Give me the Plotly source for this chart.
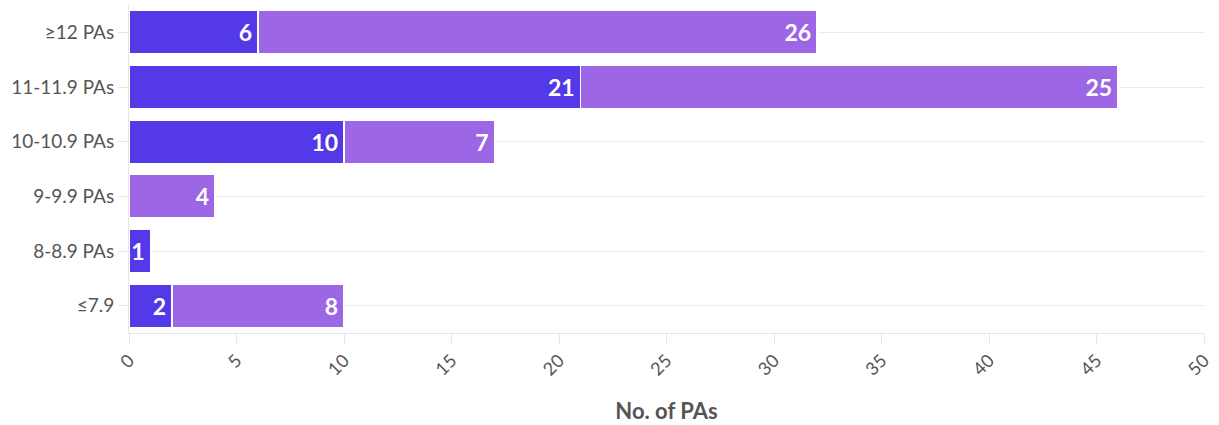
import plotly.graph_objects as go

# Plate-appearance bins, bottom to top
categories = ["≤7.9", "8-8.9 PAs", "9-9.9 PAs", "10-10.9 PAs", "11-11.9 PAs", "≥12 PAs"]
series_a = [2, 1, None, 10, 21, 6]
series_b = [8, None, 4, 7, 25, 26]
x_ticks = [0, 5, 10, 15, 20, 25, 30, 35, 40, 45, 50]

color_a = "#5439e8"
color_b = "#9d66e5"
font_family = "Source Sans Pro, Lato, Noto Sans, sans-serif"


def bar_trace(values, color):
    return go.Bar(
        y=categories,
        x=values,
        orientation="h",
        marker=dict(color=color, line=dict(color="white", width=1.5)),
        # thin space keeps the label a little off the bar end
        text=[f"{v}\u2009" if v else "" for v in values],
        textposition="inside",
        insidetextanchor="end",
        constraintext="none",
        textfont=dict(family=font_family, size=23, color="white",
                      weight="bold", shadow=f"0px 0px 3px {color}"),
        hoverinfo="skip",
        showlegend=False,
    )


fig = go.Figure([bar_trace(series_a, color_a), bar_trace(series_b, color_b)])

fig.update_layout(
    width=1219,
    height=425,
    barmode="stack",
    bargap=0.2,
    margin=dict(l=129, r=15, t=5, b=92),
    plot_bgcolor="white",
    paper_bgcolor="white",
    font=dict(family=font_family, color="#555555", size=18),
)

fig.update_xaxes(
    range=[0, 50],
    tickvals=x_ticks,
    tickangle=-45,
    tickfont=dict(size=18, color="#555555"),
    showgrid=False,
    showline=True,
    linecolor="#e6e6e6",
    linewidth=1,
    ticks="outside",
    ticklen=9,
    tickcolor="#e6e6e6",
    zeroline=False,
    title=dict(text="<b>No. of PAs</b>", font=dict(size=22, color="#555555"), standoff=25),
)

fig.update_yaxes(
    categoryorder="array",
    categoryarray=categories,
    tickfont=dict(size=19, color="#555555"),
    showgrid=True,
    gridcolor="#ebebeb",
    showline=True,
    linecolor="#e6e6e6",
    ticks="outside",
    ticklen=10,
    tickcolor="#e6e6e6",
    zeroline=False,
)

fig.write_html("out.html")
